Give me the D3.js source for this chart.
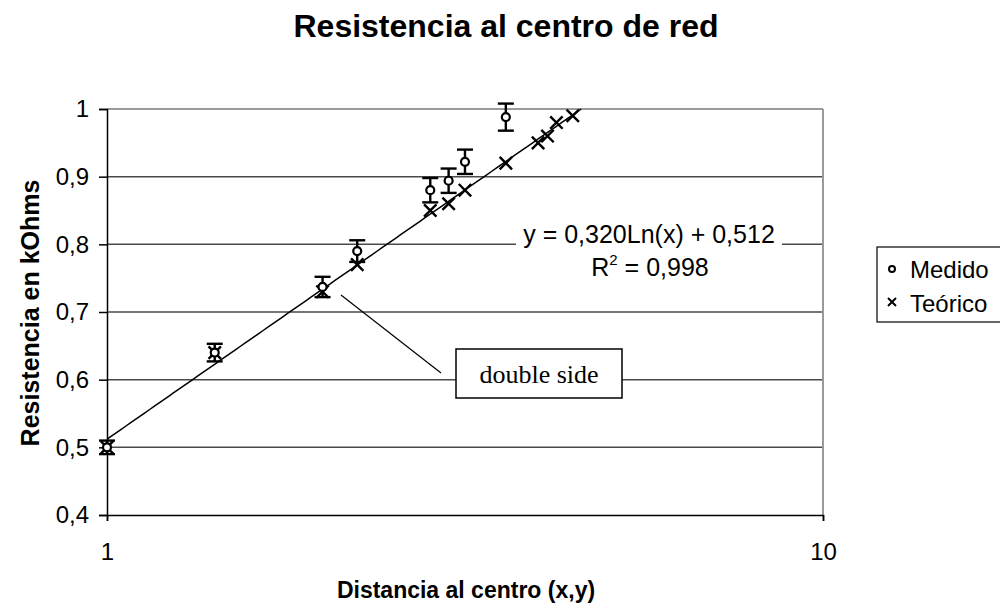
<!DOCTYPE html>
<html>
<head>
<meta charset="utf-8">
<script src="https://cdn.jsdelivr.net/npm/d3@7"></script>
<style>
  html, body { margin: 0; padding: 0; background: #fff; }
  svg { display: block; font-family: "Liberation Sans", Arial, sans-serif; }
</style>
</head>
<body>
<svg id="chart" width="1000" height="607"></svg>
<script>
// ---- data ----
const medidoX = [1, 1.414, 2, 2.236, 2.828, 3, 3.162, 3.606];
const medidoY = [0.50, 0.64, 0.737, 0.79, 0.88, 0.894, 0.922, 0.988];
const medidoErr = [0.010, 0.013, 0.015, 0.016, 0.018, 0.018, 0.018, 0.020];
const teoricoX = [1, 1.414, 2, 2.236, 2.828, 3, 3.162, 3.606, 4, 4.123, 4.243, 4.472];
const teoricoY = [0.50, 0.64, 0.73, 0.77, 0.85, 0.86, 0.88, 0.92, 0.95, 0.96, 0.98, 0.99];
const trendCoef = [0.320, 0.512]; // y = a ln(x) + b
const yTicks = [0.4, 0.5, 0.6, 0.7, 0.8, 0.9, 1];
const yTickLabels = ["0,4", "0,5", "0,6", "0,7", "0,8", "0,9", "1"];
const xTicks = [1, 10];
const xTickLabels = ["1", "10"];
const seriesNames = ["Medido", "Teórico"];

// ---- layout ----
const svg = d3.select("#chart");
const L = 107, R = 823, T = 109, B = 515;
const x = d3.scaleLog().domain([1, 10]).range([L, R]);
const y = d3.scaleLinear().domain([0.4, 1]).range([B, T]);

// title
svg.append("text").attr("x", 506).attr("y", 37).attr("text-anchor", "middle")
  .attr("font-size", 32).attr("font-weight", "bold").text("Resistencia al centro de red");

// gridlines
svg.append("g").selectAll("line").data(yTicks.filter(v => v > 0.4 && v < 1)).join("line")
  .attr("x1", L).attr("x2", R).attr("y1", d => y(d)).attr("y2", d => y(d))
  .attr("stroke", "#4a4a4a").attr("stroke-width", 1.5);

// plot border (top/right gray)
svg.append("line").attr("x1", L).attr("x2", R).attr("y1", T).attr("y2", T)
  .attr("stroke", "#9a9a9a").attr("stroke-width", 2);
svg.append("line").attr("x1", R).attr("x2", R).attr("y1", T).attr("y2", B)
  .attr("stroke", "#9a9a9a").attr("stroke-width", 2);

// axes
const yAxis = d3.axisLeft(y).tickValues(yTicks).tickSize(8).tickPadding(10)
  .tickFormat((d, i) => yTickLabels[i]);
const gy = svg.append("g").attr("transform", `translate(${L},0)`).call(yAxis);
gy.select(".domain").attr("stroke", "#000").attr("stroke-width", 1.5);
gy.selectAll(".tick line").attr("stroke", "#000").attr("stroke-width", 1.5);
gy.selectAll(".tick text").attr("font-size", 24).attr("font-family", "Liberation Sans, Arial, sans-serif").attr("fill", "#000");

const xAxis = d3.axisBottom(x).tickValues(xTicks).tickSize(6).tickPadding(22)
  .tickFormat((d, i) => xTickLabels[i]);
const gx = svg.append("g").attr("transform", `translate(0,${B})`).call(xAxis);
gx.select(".domain").attr("stroke", "#000").attr("stroke-width", 1.5);
gx.selectAll(".tick line").attr("stroke", "#000").attr("stroke-width", 1.5);
gx.selectAll(".tick text").attr("font-size", 24).attr("font-family", "Liberation Sans, Arial, sans-serif").attr("fill", "#000");

// equation label background + text
svg.append("rect").attr("x", 516).attr("y", 218).attr("width", 266).attr("height", 64).attr("fill", "#fff");
svg.append("text").attr("x", 649).attr("y", 243).attr("text-anchor", "middle").attr("font-size", 25)
  .text("y = 0,320Ln(x) + 0,512");
const r2 = svg.append("text").attr("x", 650).attr("y", 276).attr("text-anchor", "middle").attr("font-size", 25);
r2.append("tspan").text("R");
r2.append("tspan").attr("font-size", 15).attr("dy", -11).text("2");
r2.append("tspan").attr("dy", 11).text(" = 0,998");

// trend line
const xEnd = Math.exp((1 - trendCoef[1]) / trendCoef[0]);
const trendPts = d3.range(0, 101).map(i => {
  const xv = 1 * Math.pow(xEnd, i / 100);
  return [xv, trendCoef[0] * Math.log(xv) + trendCoef[1]];
});
svg.append("path").datum(trendPts)
  .attr("d", d3.line().x(d => x(d[0])).y(d => y(d[1])))
  .attr("fill", "none").attr("stroke", "#000").attr("stroke-width", 1.5);

// error bars (medido)
const medido = medidoX.map((v, i) => ({ x: v, y: medidoY[i], e: medidoErr[i] }));
const eg = svg.append("g").attr("stroke", "#000").attr("stroke-width", 2.4);
medido.forEach(d => {
  const cx = x(d.x);
  eg.append("line").attr("x1", cx).attr("x2", cx).attr("y1", y(d.y + d.e)).attr("y2", y(d.y - d.e));
  eg.append("line").attr("x1", cx - 8).attr("x2", cx + 8).attr("y1", y(d.y + d.e)).attr("y2", y(d.y + d.e));
  eg.append("line").attr("x1", cx - 8).attr("x2", cx + 8).attr("y1", y(d.y - d.e)).attr("y2", y(d.y - d.e));
});

// teorico crosses
const teorico = teoricoX.map((v, i) => ({ x: v, y: teoricoY[i] }));
const s = 6.2;
svg.append("g").selectAll("path").data(teorico).join("path")
  .attr("d", d => {
    const cx = x(d.x), cy = y(d.y);
    return `M${cx - s},${cy - s}L${cx + s},${cy + s}M${cx - s},${cy + s}L${cx + s},${cy - s}`;
  })
  .attr("stroke", "#000").attr("stroke-width", 2.4).attr("fill", "none");

// medido circles
svg.append("g").selectAll("circle").data(medido).join("circle")
  .attr("cx", d => x(d.x)).attr("cy", d => y(d.y)).attr("r", 4)
  .attr("fill", "#fff").attr("stroke", "#000").attr("stroke-width", 2.2);

// annotation "double side"
svg.append("line").attr("x1", 341).attr("y1", 295).attr("x2", 441).attr("y2", 373)
  .attr("stroke", "#000").attr("stroke-width", 1.2);
svg.append("rect").attr("x", 456).attr("y", 349).attr("width", 166).attr("height", 49)
  .attr("fill", "#fff").attr("stroke", "#000").attr("stroke-width", 1.5);
svg.append("text").attr("x", 539).attr("y", 383).attr("text-anchor", "middle")
  .attr("font-family", "Liberation Serif, 'Times New Roman', serif").attr("font-size", 26)
  .text("double side");

// axis titles
svg.append("text").attr("x", 466).attr("y", 598).attr("text-anchor", "middle")
  .attr("font-size", 23).attr("font-weight", "bold").text("Distancia al centro (x,y)");
svg.append("text").attr("transform", "translate(39,313) rotate(-90)").attr("text-anchor", "middle")
  .attr("font-size", 25).attr("font-weight", "bold").text("Resistencia en kOhms");

// legend
const lg = svg.append("g");
lg.append("rect").attr("x", 877).attr("y", 247).attr("width", 140).attr("height", 75)
  .attr("fill", "#fff").attr("stroke", "#000").attr("stroke-width", 1.2);
lg.append("circle").attr("cx", 892).attr("cy", 269).attr("r", 3)
  .attr("fill", "#fff").attr("stroke", "#000").attr("stroke-width", 2);
lg.append("path").attr("d", "M888,298L896,306M888,306L896,298")
  .attr("stroke", "#000").attr("stroke-width", 2).attr("fill", "none");
lg.append("text").attr("x", 910).attr("y", 278).attr("font-size", 24).text(seriesNames[0]);
lg.append("text").attr("x", 910).attr("y", 312).attr("font-size", 24).text(seriesNames[1]);
</script>
</body>
</html>
